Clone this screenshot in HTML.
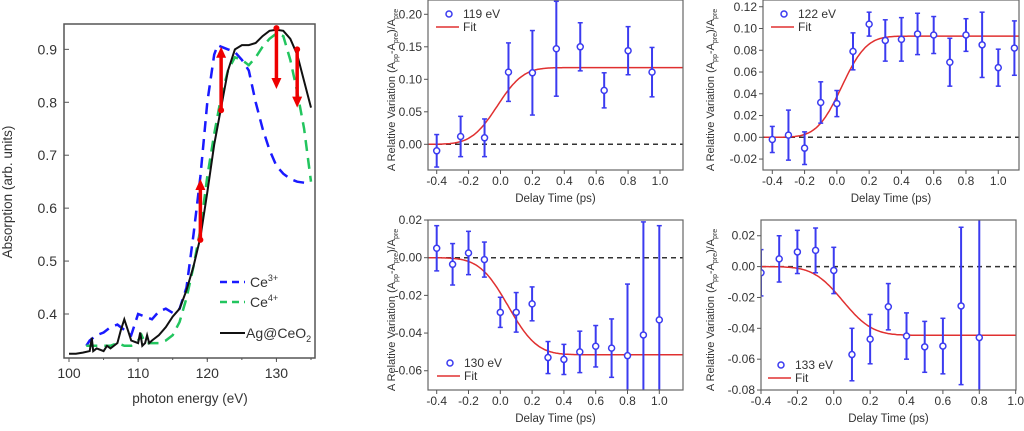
<!DOCTYPE html>
<html><head><meta charset="utf-8">
<style>
html,body{margin:0;padding:0;background:#fff;width:1024px;height:431px;overflow:hidden;}
svg{display:block;font-family:"Liberation Sans",sans-serif;}
</style></head>
<body>
<svg id="fig" width="1024" height="431" viewBox="0 0 1024 431" xmlns="http://www.w3.org/2000/svg"></svg>
<script>
// ---- Left panel data ----
const agEnergy=[100,101,102,103,103.3,103.5,104,105,105.5,106,107,107.5,108,108.5,109,110,110.3,110.6,111,111.3,111.6,112,113,114,115,116,117,118,119,120,121,122,123,124,125,126,127,128,129,130,131,132,133,134,135];
const agAbs=[0.325,0.325,0.327,0.33,0.355,0.33,0.335,0.33,0.34,0.335,0.345,0.37,0.39,0.37,0.35,0.345,0.365,0.34,0.345,0.36,0.345,0.35,0.36,0.375,0.395,0.41,0.445,0.49,0.545,0.63,0.72,0.79,0.86,0.9,0.908,0.908,0.912,0.925,0.935,0.937,0.935,0.92,0.89,0.84,0.79];
const ce3Energy=[102.5,103,104,105,106,107,108,109,110,111,112,113,114,115,116,117,118,119,120,121,121.5,122,123,124,125,126,127,128,129,130,131,132,133,134,135];
const ce3Abs=[0.34,0.35,0.36,0.365,0.375,0.38,0.37,0.36,0.4,0.395,0.39,0.405,0.41,0.402,0.41,0.45,0.55,0.66,0.8,0.89,0.908,0.905,0.9,0.895,0.88,0.86,0.8,0.75,0.71,0.68,0.665,0.655,0.65,0.648,0.648];
const ce4Energy=[102.5,104,105,106,107,108,109,110,110.5,111,112,113,114,115,116,117,118,119,120,121,122,123,124,125,126,127,128,129,130,131,132,133,134,135];
const ce4Abs=[0.34,0.34,0.34,0.34,0.345,0.34,0.34,0.35,0.36,0.345,0.345,0.345,0.35,0.36,0.385,0.43,0.49,0.56,0.66,0.74,0.81,0.86,0.885,0.88,0.87,0.885,0.905,0.92,0.93,0.925,0.88,0.82,0.75,0.65];
const arrowEnergy=[119,122,130,133];
const arrowFrom=[0.54,0.785,0.94,0.90];
const arrowTo=[0.655,0.905,0.825,0.79];
const leftXTicks=[100,110,120,130];
const leftYTicks=[0.4,0.5,0.6,0.7,0.8,0.9];

// ---- Kinetics data ----
const t119=[-0.4,-0.25,-0.1,0.05,0.2,0.35,0.5,0.65,0.8,0.95];
const v119=[-0.01,0.012,0.01,0.111,0.11,0.147,0.15,0.083,0.144,0.111];
const e119=[0.025,0.031,0.029,0.045,0.065,0.073,0.037,0.027,0.037,0.038];
const fit119=[0.118,-0.02,0.18];
const t122=[-0.4,-0.3,-0.2,-0.1,0,0.1,0.2,0.3,0.4,0.5,0.6,0.7,0.8,0.9,1.0,1.1];
const v122=[-0.002,0.002,-0.01,0.032,0.031,0.079,0.104,0.089,0.09,0.095,0.094,0.069,0.094,0.085,0.064,0.082];
const e122=[0.012,0.023,0.015,0.019,0.012,0.017,0.011,0.019,0.02,0.019,0.017,0.022,0.015,0.03,0.017,0.025];
const fit122=[0.093,0.03,0.17];
const t130=[-0.4,-0.3,-0.2,-0.1,0,0.1,0.2,0.3,0.4,0.5,0.6,0.7,0.8,0.9,1.0];
const v130=[0.005,-0.0035,0.0025,-0.001,-0.029,-0.029,-0.0245,-0.053,-0.054,-0.05,-0.047,-0.048,-0.052,-0.041,-0.033];
const e130=[0.012,0.011,0.0115,0.0093,0.008,0.0105,0.009,0.0085,0.008,0.011,0.011,0.0155,0.038,0.06,0.05];
const fit130=[-0.0515,0.05,0.2];
const t133=[-0.4,-0.3,-0.2,-0.1,0,0.1,0.2,0.3,0.4,0.5,0.6,0.7,0.8];
const v133=[-0.004,0.005,0.0095,0.0105,-0.0025,-0.057,-0.047,-0.026,-0.045,-0.052,-0.0515,-0.0255,-0.046];
const e133=[0.015,0.015,0.014,0.0145,0.015,0.017,0.016,0.015,0.015,0.0165,0.018,0.051,0.08];
const fit133=[-0.0445,0.05,0.18];

const NS="http://www.w3.org/2000/svg";
const svg=document.getElementById('fig');
function mk(tag,attrs,parent,txt){const e=document.createElementNS(NS,tag);for(const k in attrs)e.setAttribute(k,attrs[k]);if(txt!==undefined)e.textContent=txt;(parent||svg).appendChild(e);return e;}
function erf(x){const s=Math.sign(x);x=Math.abs(x);const t=1/(1+0.3275911*x);const y=1-(((((1.061405429*t-1.453152027)*t)+1.421413741)*t-0.284496736)*t+0.254829592)*t*Math.exp(-x*x);return s*y;}

// ---- Left panel ----
(function(){
  const g=mk('g',{});
  
  
  const X=e=>69+(e-100)*(242/35), Y=v=>314-(v-0.4)*529.3;
  const clip=mk('clipPath',{id:'lc'},g);mk('rect',{x:64,y:24,width:251,height:334},clip);
  const path=(xs,ys)=>xs.map((e,i)=>(i?'L':'M')+X(e).toFixed(1)+','+Y(ys[i]).toFixed(1)).join('');
  const cg=mk('g',{'clip-path':'url(#lc)'},g);
  const l3=mk('path',{d:path(ce3Energy,ce3Abs),fill:'none',stroke:'#1a1aff','stroke-width':2.5,'stroke-dasharray':'11,7'},cg);
  
  const l4=mk('path',{d:path(ce4Energy,ce4Abs),fill:'none',stroke:'#22c55e','stroke-width':2.5,'stroke-dasharray':'11,7'},cg);
  
  const la=mk('path',{d:path(agEnergy,agAbs),fill:'none',stroke:'#111','stroke-width':2},cg);
  
  arrowEnergy.forEach((e,i)=>{
    const x=X(e),y1=Y(arrowFrom[i]),y2=Y(arrowTo[i]),d=y2<y1?1:-1;
    const a=mk('g',{},g);
    
    mk('circle',{cx:x,cy:y1,r:3,fill:'#ee0000'},a);
    mk('line',{x1:x,y1:y1,x2:x,y2:y2+d*10,stroke:'#ee0000','stroke-width':3.5},a);
    mk('polygon',{points:`${x-5},${y2+d*11} ${x+5},${y2+d*11} ${x},${y2}`,fill:'#ee0000'},a);
  });
  const fr=mk('rect',{x:64,y:24,width:251,height:334,fill:'none',stroke:'#555','stroke-width':1.5},g);
  
  leftXTicks.forEach(t=>{const x=X(t);mk('line',{x1:x,y1:358,x2:x,y2:362,stroke:'#555'},g);
    const tx=mk('text',{x:x,y:378,'font-size':14,'text-anchor':'middle',fill:'#333'},g,t);
    });
  for(let t=100;t<=135;t+=5){const x=X(t);mk('line',{x1:x,y1:358,x2:x,y2:360,stroke:'#555'},g);}
  leftYTicks.forEach(t=>{const y=Y(t);mk('line',{x1:64,y1:y,x2:69,y2:y,stroke:'#555'},g);
    const tx=mk('text',{x:57,y:y+5,'font-size':14,'text-anchor':'end',fill:'#333'},g,t.toFixed(1));
    });
  const xt=mk('text',{x:190,y:403,'font-size':13.5,'text-anchor':'middle',fill:'#333'},g,'photon energy (eV)');
  
  const yt=mk('text',{x:0,y:0,'font-size':13.5,'text-anchor':'middle',fill:'#333',transform:'translate(12,192) rotate(-90)'},g,'Absorption (arb. units)');
  
  const lg=mk('g',{},g);
  mk('line',{x1:220,y1:282,x2:245,y2:282,stroke:'#1a1aff','stroke-width':2.5,'stroke-dasharray':'7,5'},lg);
  mk('line',{x1:220,y1:302,x2:245,y2:302,stroke:'#22c55e','stroke-width':2.5,'stroke-dasharray':'7,5'},lg);
  mk('line',{x1:220,y1:333,x2:245,y2:333,stroke:'#111','stroke-width':2},lg);
  const t1=mk('text',{x:250,y:287,'font-size':14,fill:'#333'},lg);t1.innerHTML='Ce<tspan dy="-6" font-size="9">3+</tspan>';
  const t2=mk('text',{x:250,y:307,'font-size':14,fill:'#333'},lg);t2.innerHTML='Ce<tspan dy="-6" font-size="9">4+</tspan>';
  const t3=mk('text',{x:246,y:338,'font-size':14,fill:'#333'},lg);t3.innerHTML='Ag@CeO<tspan dy="4" font-size="9">2</tspan>';
})();

// ---- Kinetics panels ----
function panel(o){
  const g=mk('g',{});
  
  
  const X=t=>o.x0+(t-o.tmin)*o.sx, Y=v=>o.y0-v*o.sy;
  const cl=y=>Math.max(o.T,Math.min(o.B,y));
  const id='c'+o.label.replace(/\W/g,'');
  const cp=mk('clipPath',{id:id},g);mk('rect',{x:o.L,y:o.T,width:o.R-o.L,height:o.B-o.T},cp);
  const cg=mk('g',{'clip-path':`url(#${id})`},g);
  mk('line',{x1:o.L,y1:Y(0),x2:o.R,y2:Y(0),stroke:'#333','stroke-width':1.5,'stroke-dasharray':'5,4'},cg);
  let d='';const [A,t0,w]=o.fit;
  for(let i=0;i<=200;i++){const t=o.tmin-0.05+i*(o.tmax-o.tmin+0.1)/200;const v=A*(1+erf((t-t0)/w))/2;d+=(i?'L':'M')+X(t).toFixed(1)+','+cl(Y(v)).toFixed(1);}
  const fl=mk('path',{d:d,fill:'none',stroke:'#e03030','stroke-width':1.5},cg);
  
  o.t.forEach((t,i)=>{
    const x=X(t),y=Y(o.v[i]),yuR=Y(o.v[i]+o.e[i]),ylR=Y(o.v[i]-o.e[i]);
    const yu=cl(yuR),yl=cl(ylR);
    const pg=mk('g',{},cg);
    
    mk('line',{x1:x,y1:yu,x2:x,y2:yl,stroke:'#3b3bf0','stroke-width':2},pg);
    if(yu===yuR)mk('line',{x1:x-2.5,y1:yu,x2:x+2.5,y2:yu,stroke:'#3b3bf0','stroke-width':1.5},pg);
    if(yl===ylR)mk('line',{x1:x-2.5,y1:yl,x2:x+2.5,y2:yl,stroke:'#3b3bf0','stroke-width':1.5},pg);
    mk('circle',{cx:x,cy:y,r:3,fill:'#fff',stroke:'#3b3bf0','stroke-width':1.5},pg);
  });
  const fr=mk('rect',{x:o.L,y:o.T,width:o.R-o.L,height:o.B-o.T,fill:'none',stroke:'#666','stroke-width':1.2},g);
  
  o.xt.forEach(t=>{const x=X(t);mk('line',{x1:x,y1:o.B,x2:x,y2:o.B+4,stroke:'#555'},g);
    const tx=mk('text',{x:x,y:o.B+15,'font-size':12,'text-anchor':'middle',fill:'#333'},g,t.toFixed(1));
    });
  o.yt.forEach(t=>{const y=Y(t);mk('line',{x1:o.L-4,y1:y,x2:o.L,y2:y,stroke:'#555'},g);
    const tx=mk('text',{x:o.L-6,y:y+4,'font-size':12,'text-anchor':'end',fill:'#333'},g,t.toFixed(o.dec));
    });
  const xt=mk('text',{x:(o.L+o.R)/2,y:o.B+32,'font-size':11.5,'text-anchor':'middle',fill:'#333'},g,'Delay Time (ps)');
  
  const yt=mk('text',{x:0,y:0,'font-size':11,'text-anchor':'middle',fill:'#333',transform:`translate(${o.ytx},${(o.T+o.B)/2+5}) rotate(-90)`},g);
  yt.innerHTML='A Relative Variation (A<tspan dy="3" font-size="7">pp</tspan><tspan dy="-3">-A</tspan><tspan dy="3" font-size="7">pre</tspan><tspan dy="-3">)/A</tspan><tspan dy="3" font-size="7">pre</tspan>';
  
  const lg=mk('g',{},g);
  mk('circle',{cx:o.lx,cy:o.ly,r:3,fill:'#fff',stroke:'#3b3bf0','stroke-width':1.5},lg);
  mk('text',{x:o.lx+14,y:o.ly+4,'font-size':12,fill:'#333'},lg,o.label);
  mk('line',{x1:o.lx-13,y1:o.ly+13,x2:o.lx+10,y2:o.ly+13,stroke:'#e03030','stroke-width':1.5},lg);
  mk('text',{x:o.lx+14,y:o.ly+17,'font-size':12,fill:'#333'},lg,'Fit');
}
const xt14=[-0.4,-0.2,0,0.2,0.4,0.6,0.8,1.0];
panel({name:'panel-119ev',label:'119 eV',t:t119,v:v119,e:e119,fit:fit119,L:428,R:683,T:0,B:170,x0:436.7,tmin:-0.4,tmax:1.15,sx:159.5,y0:144.3,sy:650,xt:xt14,yt:[0,0.05,0.1,0.15,0.2],dec:2,ytx:395,lx:449,ly:14});
panel({name:'panel-122ev',label:'122 eV',t:t122,v:v122,e:e122,fit:fit122,L:763,R:1019,T:0,B:170,x0:772.3,tmin:-0.4,tmax:1.15,sx:161.4,y0:137.3,sy:1088,xt:xt14,yt:[-0.02,0,0.02,0.04,0.06,0.08,0.1,0.12],dec:2,ytx:714,lx:784,ly:14});
panel({name:'panel-130ev',label:'130 eV',t:t130,v:v130,e:e130,fit:fit130,L:428,R:683,T:220,B:390,x0:436.7,tmin:-0.4,tmax:1.15,sx:159,y0:257.7,sy:1884,xt:xt14,yt:[-0.06,-0.04,-0.02,0,0.02],dec:2,ytx:395,lx:450,ly:363});
panel({name:'panel-133ev',label:'133 eV',t:t133,v:v133,e:e133,fit:fit133,L:761,R:1016,T:220,B:390,x0:761,tmin:-0.4,tmax:1.0,sx:181.9,y0:266.6,sy:1543,xt:[-0.4,-0.2,0,0.2,0.4,0.6,0.8,1.0],yt:[-0.08,-0.06,-0.04,-0.02,0,0.02],dec:2,ytx:714,lx:781,ly:365});
</script>
</body></html>
